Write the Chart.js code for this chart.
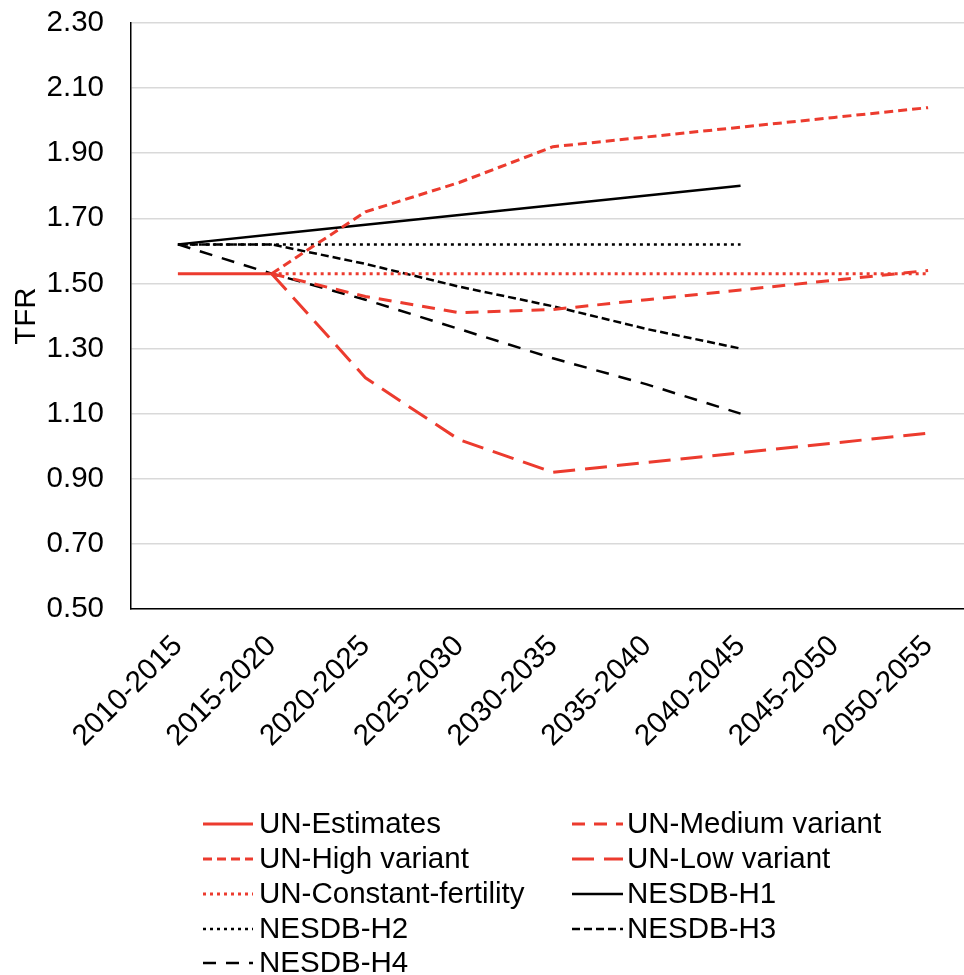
<!DOCTYPE html>
<html><head><meta charset="utf-8">
<script src="https://cdn.jsdelivr.net/npm/chart.js@4/dist/chart.umd.min.js"></script>
<style>html,body{margin:0;padding:0;background:#fff;overflow:hidden;}#wrap{width:990px;height:975px;}</style>
</head><body><div id="wrap"><canvas id="c" width="990" height="975"></canvas></div>
<script>
const categories = ['2010-2015','2015-2020','2020-2025','2025-2030','2030-2035','2035-2040','2040-2045','2045-2050','2050-2055'];
const unEstimates = [1.53, 1.53, null, null, null, null, null, null, null];
const unMedium    = [null, 1.53, 1.46, 1.41, 1.42, 1.45, 1.48, 1.51, 1.54];
const unHigh      = [null, 1.53, 1.72, 1.81, 1.92, 1.95, 1.98, 2.01, 2.04];
const unLow       = [null, 1.53, 1.21, 1.02, 0.92, 0.95, 0.98, 1.01, 1.04];
const unConstant  = [null, 1.53, 1.53, 1.53, 1.53, 1.53, 1.53, 1.53, 1.53];
const nesdbH1     = [1.62, 1.65, 1.68, 1.71, 1.74, 1.77, 1.80, null, null];
const nesdbH2     = [1.62, 1.62, 1.62, 1.62, 1.62, 1.62, 1.62, null, null];
const nesdbH3     = [1.62, 1.62, 1.56, 1.49, 1.43, 1.36, 1.30, null, null];
const nesdbH4     = [1.62, 1.53, 1.45, 1.36, 1.27, 1.19, 1.10, null, null];
const yMin = 0.5, yMax = 2.3, yStep = 0.2;
const yTitle = 'TFR';

const RED = '#ec3b2e', BLACK = '#000000';
const FONT = '"Liberation Sans", Arial, Helvetica, sans-serif';
const FS = 29.5;

function ds(label, data, color, width, dash) {
  return { label, data, borderColor: color, backgroundColor: color, borderWidth: width,
    borderDash: dash, pointRadius: 0, pointHoverRadius: 0, tension: 0, fill: false,
    borderCapStyle: 'butt', borderJoinStyle: 'miter' };
}
const datasets = [
  ds('UN-Estimates', unEstimates, RED, 3, []),
  ds('UN-Medium variant', unMedium, RED, 3, [13, 9]),
  ds('UN-High variant', unHigh, RED, 3, [9, 5]),
  ds('UN-Low variant', unLow, RED, 3, [22, 10]),
  ds('UN-Constant-fertility', unConstant, RED, 3, [3, 4]),
  ds('NESDB-H1', nesdbH1, BLACK, 2.5, []),
  ds('NESDB-H2', nesdbH2, BLACK, 2.5, [3, 4]),
  ds('NESDB-H3', nesdbH3, BLACK, 2.5, [8, 4]),
  ds('NESDB-H4', nesdbH4, BLACK, 2.5, [13, 10])
];

const legendPlugin = {
  id: 'gridLegend',
  afterDraw(chart) {
    const ctx = chart.ctx;
    const base = chart.chartArea.bottom;
    const cols = [{sx: 203, ex: 253, tx: 259}, {sx: 572, ex: 623, tx: 627}];
    const rowY = [215, 250, 285, 320, 354];
    ctx.save();
    ctx.font = FS + 'px ' + FONT;
    ctx.textBaseline = 'middle';
    ctx.textAlign = 'left';
    chart.data.datasets.forEach((d, i) => {
      const c = cols[i % 2];
      const y = base + rowY[Math.floor(i / 2)];
      ctx.beginPath();
      ctx.strokeStyle = d.borderColor;
      ctx.lineWidth = d.borderWidth;
      ctx.setLineDash(d.borderDash || []);
      ctx.lineCap = 'butt';
      ctx.moveTo(c.sx, y);
      ctx.lineTo(c.ex, y);
      ctx.stroke();
      ctx.setLineDash([]);
      ctx.fillStyle = '#000';
      ctx.fillText(d.label, c.tx, y + 1);
    });
    ctx.restore();
  }
};

new Chart(document.getElementById('c'), {
  type: 'line',
  data: { labels: categories, datasets },
  plugins: [legendPlugin],
  options: {
    responsive: false,
    devicePixelRatio: 1,
    animation: false,
    events: [],
    layout: { padding: { left: 0, top: 23, right: 15, bottom: 176 } },
    plugins: { legend: { display: false }, tooltip: { enabled: false } },
    scales: {
      x: {
        offset: true,
        grid: { display: false },
        border: { display: true, color: '#000', width: 1.5 },
        ticks: { color: '#000', font: { family: FONT, size: FS }, maxRotation: 45, minRotation: 45, padding: 12, autoSkip: false },
        afterFit(scale) { scale.height = 190; scale.paddingLeft = 0; scale.paddingRight = 0; }
      },
      y: {
        min: yMin, max: yMax,
        grid: { color: '#d9d9d9', lineWidth: 1.5, drawTicks: false },
        border: { display: true, color: '#000', width: 1.5 },
        ticks: { stepSize: yStep, color: '#000', padding: 27, font: { family: FONT, size: FS },
          callback: v => Number(v).toFixed(2) },
        title: { display: true, text: yTitle, color: '#000', font: { family: FONT, size: FS }, padding: { top: 9, bottom: 0 } },
        afterFit(scale) { scale.width = 131; scale.paddingTop = 0; scale.paddingBottom = 0; }
      }
    }
  }
});
</script></body></html>
